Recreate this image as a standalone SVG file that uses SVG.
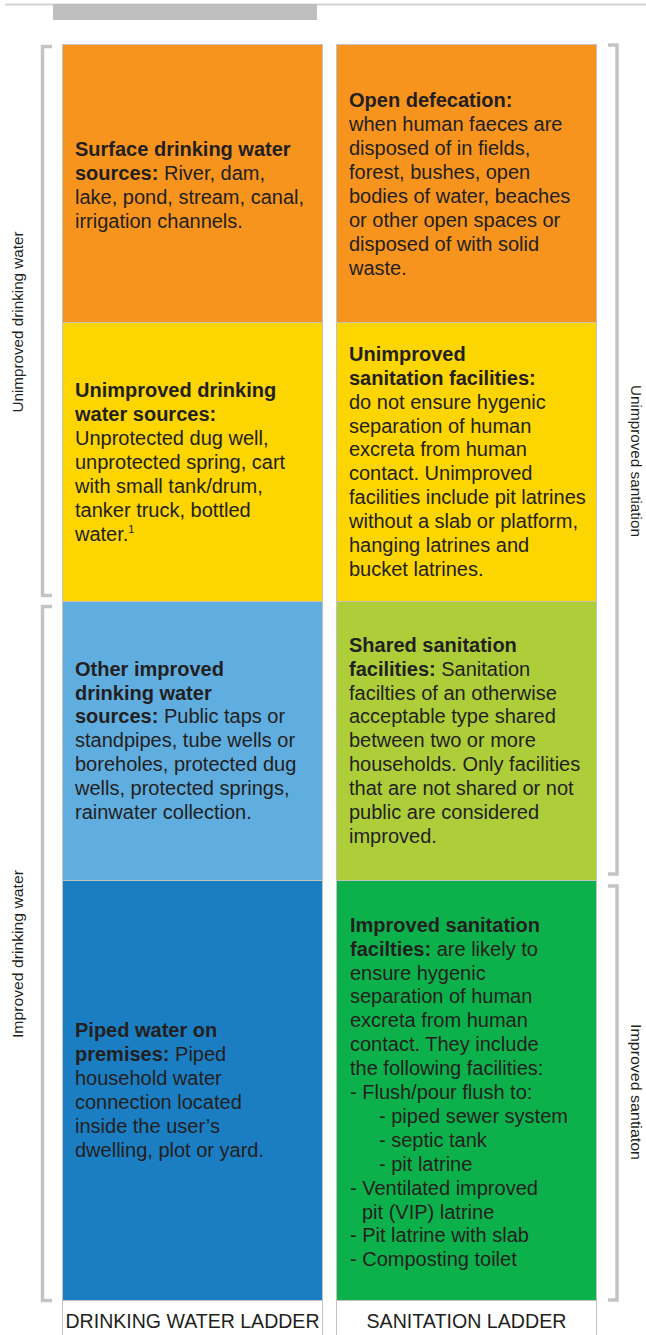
<svg xmlns="http://www.w3.org/2000/svg" width="646" height="1335" viewBox="0 0 646 1335">
<style>
.t{font-family:"Liberation Sans",Arial,sans-serif;font-size:20px;fill:#231f20}
.b{font-weight:bold}
.cell{stroke:#c2c2c2;stroke-width:1}
.lab{font-family:"Liberation Sans",Arial,sans-serif;font-size:19.5px;fill:#231f20;text-anchor:middle}
.side{font-family:"Liberation Sans",Arial,sans-serif;font-size:15.5px;fill:#231f20;text-anchor:middle}
.br{fill:none;stroke:#c4c4c4;stroke-width:3.5}
</style>
<rect width="646" height="1335" fill="#ffffff"/>
<line x1="5" y1="4.5" x2="646" y2="4.5" stroke="#d4d4d4" stroke-width="2"/>
<rect x="53" y="4" width="264" height="16" fill="#bfbfc0"/>

<g id="brackets">
<path class="br" d="M52,46.5 H42.5 V595.5 H52"/>
<path class="br" d="M52,606.5 H42.5 V1300.5 H52"/>
<path class="br" d="M608,45 H617 V874 H608"/>
<path class="br" d="M608,886 H617 V1300 H608"/>
</g>
<g id="connectors"/>

<g id="surface-water">
<rect class="cell" x="62.5" y="44.5" width="260" height="278" fill="#f7941d"/>
<text class="t" x="75" y="156"><tspan class="b">Surface drinking water</tspan><tspan x="75" dy="23.9" class="b">sources:</tspan> River, dam,<tspan x="75" dy="23.9">lake, pond, stream, canal,</tspan><tspan x="75" dy="23.9">irrigation channels.</tspan></text>
</g>
<g id="open-defecation">
<rect class="cell" x="336.5" y="44.5" width="260" height="278" fill="#f7941d"/>
<text class="t" x="349" y="107.3"><tspan class="b">Open defecation:</tspan><tspan x="349" dy="23.9">when human faeces are</tspan><tspan x="349" dy="23.9">disposed of in fields,</tspan><tspan x="349" dy="23.9">forest, bushes, open</tspan><tspan x="349" dy="23.9">bodies of water, beaches</tspan><tspan x="349" dy="23.9">or other open spaces or</tspan><tspan x="349" dy="23.9">disposed of with solid</tspan><tspan x="349" dy="23.9">waste.</tspan></text>
</g>
<g id="unimproved-water">
<rect class="cell" x="62.5" y="322.5" width="260" height="279" fill="#fdd500"/>
<text class="t" x="75" y="397.3"><tspan class="b">Unimproved drinking</tspan><tspan x="75" dy="23.9" class="b">water sources:</tspan><tspan x="75" dy="23.9">Unprotected dug well,</tspan><tspan x="75" dy="23.9">unprotected spring, cart</tspan><tspan x="75" dy="23.9">with small tank/drum,</tspan><tspan x="75" dy="23.9">tanker truck, bottled</tspan><tspan x="75" dy="23.9">water.</tspan><tspan dy="-8" font-size="11">1</tspan></text>
</g>
<g id="unimproved-sanitation">
<rect class="cell" x="336.5" y="322.5" width="260" height="279" fill="#fdd500"/>
<text class="t" x="349" y="360.8"><tspan class="b">Unimproved</tspan><tspan x="349" dy="23.9" class="b">sanitation facilities:</tspan><tspan x="349" dy="23.9">do not ensure hygenic</tspan><tspan x="349" dy="23.9">separation of human</tspan><tspan x="349" dy="23.9">excreta from human</tspan><tspan x="349" dy="23.9">contact. Unimproved</tspan><tspan x="349" dy="23.9">facilities include pit latrines</tspan><tspan x="349" dy="23.9">without a slab or platform,</tspan><tspan x="349" dy="23.9">hanging latrines and</tspan><tspan x="349" dy="23.9">bucket latrines.</tspan></text>
</g>
<g id="other-improved-water">
<rect class="cell" x="62.5" y="601.5" width="260" height="279" fill="#60ade0"/>
<text class="t" x="75" y="675.6"><tspan class="b">Other improved</tspan><tspan x="75" dy="23.9" class="b">drinking water</tspan><tspan x="75" dy="23.9" class="b">sources:</tspan> Public taps or<tspan x="75" dy="23.9">standpipes, tube wells or</tspan><tspan x="75" dy="23.9">boreholes, protected dug</tspan><tspan x="75" dy="23.9">wells, protected springs,</tspan><tspan x="75" dy="23.9">rainwater collection.</tspan></text>
</g>
<g id="shared-sanitation">
<rect class="cell" x="336.5" y="601.5" width="260" height="279" fill="#adce39"/>
<text class="t" x="349" y="651.7"><tspan class="b">Shared sanitation</tspan><tspan x="349" dy="23.9" class="b">facilities:</tspan> Sanitation<tspan x="349" dy="23.9">facilties of an otherwise</tspan><tspan x="349" dy="23.9">acceptable type shared</tspan><tspan x="349" dy="23.9">between two or more</tspan><tspan x="349" dy="23.9">households. Only facilities</tspan><tspan x="349" dy="23.9">that are not shared or not</tspan><tspan x="349" dy="23.9">public are considered</tspan><tspan x="349" dy="23.9">improved.</tspan></text>
</g>
<g id="piped-water">
<rect class="cell" x="62.5" y="880.5" width="260" height="420" fill="#1b7ec2"/>
<text class="t" x="75" y="1037"><tspan class="b">Piped water on</tspan><tspan x="75" dy="23.9" class="b">premises:</tspan> Piped<tspan x="75" dy="23.9">household water</tspan><tspan x="75" dy="23.9">connection located</tspan><tspan x="75" dy="23.9">inside the user’s</tspan><tspan x="75" dy="23.9">dwelling, plot or yard.</tspan></text>
</g>
<g id="improved-sanitation">
<rect class="cell" x="336.5" y="880.5" width="260" height="420" fill="#0cb14b"/>
<text class="t" x="350" y="931.7"><tspan class="b">Improved sanitation</tspan><tspan x="350" dy="23.9" class="b">facilties:</tspan> are likely to<tspan x="350" dy="23.9">ensure hygenic</tspan><tspan x="350" dy="23.9">separation of human</tspan><tspan x="350" dy="23.9">excreta from human</tspan><tspan x="350" dy="23.9">contact. They include</tspan><tspan x="350" dy="23.9">the following facilities:</tspan><tspan x="350" dy="23.9">- Flush/pour flush to:</tspan><tspan x="379" dy="23.9">- piped sewer system</tspan><tspan x="379" dy="23.9">- septic tank</tspan><tspan x="379" dy="23.9">- pit latrine</tspan><tspan x="350" dy="23.9">- Ventilated improved</tspan><tspan x="362" dy="23.9">pit (VIP) latrine</tspan><tspan x="350" dy="23.9">- Pit latrine with slab</tspan><tspan x="350" dy="23.9">- Composting toilet</tspan></text>
</g>
<g id="water-ladder-label">
<rect class="cell" x="62.5" y="1300.5" width="260" height="40" fill="#ffffff"/>
<text class="lab" x="192.5" y="1328" textLength="254" lengthAdjust="spacingAndGlyphs">DRINKING WATER LADDER</text>
</g>
<g id="sanitation-ladder-label">
<rect class="cell" x="336.5" y="1300.5" width="260" height="40" fill="#ffffff"/>
<text class="lab" x="466.5" y="1328" textLength="200" lengthAdjust="spacingAndGlyphs">SANITATION LADDER</text>
</g>
<g id="side-labels">
<text class="side" transform="translate(23,322) rotate(-90)" textLength="181" lengthAdjust="spacingAndGlyphs">Unimproved drinking water</text>
<text class="side" transform="translate(23,954) rotate(-90)" textLength="168" lengthAdjust="spacingAndGlyphs">Improved drinking water</text>
<text class="side" transform="translate(631,461) rotate(90)" textLength="152" lengthAdjust="spacingAndGlyphs">Unimproved santiation</text>
<text class="side" transform="translate(631,1092) rotate(90)" textLength="136" lengthAdjust="spacingAndGlyphs">Improved santiaton</text>
</g>
</svg>
